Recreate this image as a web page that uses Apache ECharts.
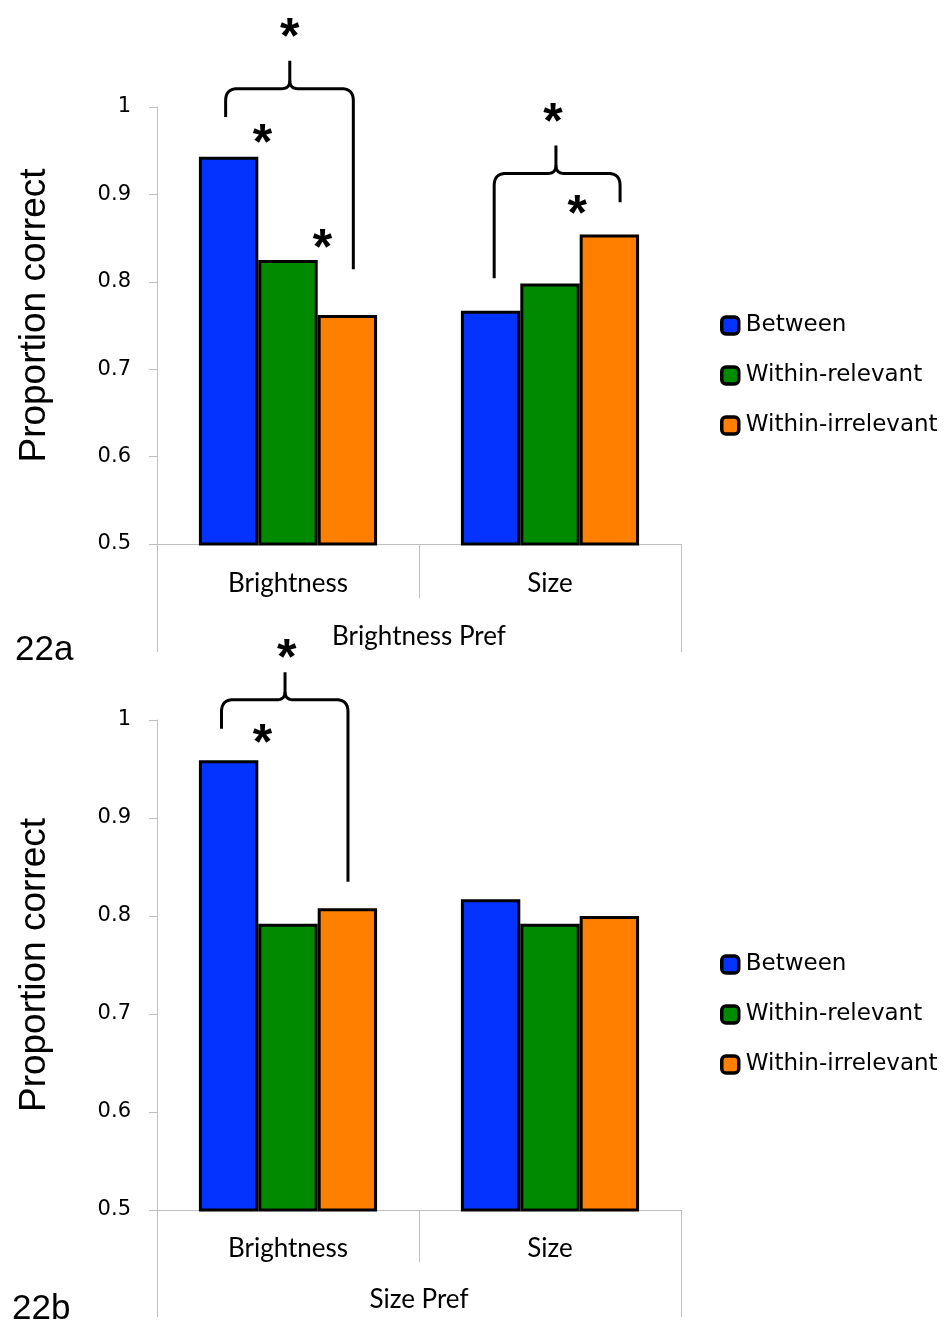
<!DOCTYPE html>
<html><head><meta charset="utf-8">
<script src="https://cdn.jsdelivr.net/npm/echarts@6/dist/echarts.min.js"></script>
<style>html,body{margin:0;padding:0;background:#fff}#c{width:946px;height:1325px}</style>
</head><body><div id="c"></div>
<script>
const categories = ['Brightness', 'Size'];
const seriesNames = ['Between', 'Within-relevant', 'Within-irrelevant'];
const groupA = 'Brightness Pref';
const groupB = 'Size Pref';
const panelA = '22a';
const panelB = '22b';
const yTitle = 'Proportion correct';
// Panel 22a values
const betweenA = [0.943, 0.767];
const withinRelevantA = [0.825, 0.798];
const withinIrrelevantA = [0.762, 0.854];
// Panel 22b values
const betweenB = [0.959, 0.817];
const withinRelevantB = [0.792, 0.792];
const withinIrrelevantB = [0.808, 0.800];
const yMin = 0.5, yMax = 1, yStep = 0.1;

// significance annotations (x in bar-slot units from category centre, y in data units)
const bracesA = [
  {cat: 0, left: -1.05, right: 1.10, cusp: 0.03, leftBottom: 0.9886, rightBottom: 0.8143, level: 1.021, top: 1.053},
  {cat: 1, left: -0.94, right: 1.18, cusp: 0.10, leftBottom: 0.804, rightBottom: 0.891, level: 0.924, top: 0.956}
];
const starsA = [
  {cat: 0, slot: 0.03, value: 1.091}, {cat: 0, slot: -0.43, value: 0.970}, {cat: 0, slot: 0.58, value: 0.849},
  {cat: 1, slot: 0.05, value: 0.994}, {cat: 1, slot: 0.46, value: 0.888}
];
const bracesB = [
  {cat: 0, left: -1.12, right: 1.01, cusp: -0.05, leftBottom: 0.991, rightBottom: 0.835, level: 1.0207, top: 1.0486}
];
const starsB = [
  {cat: 0, slot: -0.02, value: 1.073}, {cat: 0, slot: -0.43, value: 0.986}
];

const colors = ['#0433FF', '#008A00', '#FF7F00'];
const gray = '#BFBFBF';
const labelFont = 'Lato';
const barGapCat = 0.32;

const chart = echarts.init(document.getElementById('c'), null, {renderer: 'canvas'});

function yAxisCfg(gi, namePad) {
  return {
    type: 'value', gridIndex: gi, min: yMin, max: yMax, interval: yStep,
    name: yTitle, nameLocation: 'middle', nameGap: 104, nameRotate: 90,
    nameTextStyle: {fontFamily: 'Liberation Sans', fontSize: 37, color: '#000', padding: namePad},
    axisLine: {show: true, lineStyle: {color: gray, width: 1}},
    axisTick: {show: true, length: 8, lineStyle: {color: gray}},
    axisLabel: {margin: 26, fontFamily: 'DejaVu Sans', fontSize: 21, color: '#000', padding: [6, 0, 0, 0]},
    splitLine: {show: false}
  };
}
function xAxesCfg(gi, group, tickLen1, tickLen2, m1, m2) {
  return [{
    type: 'category', gridIndex: gi, data: categories, position: 'bottom',
    axisLine: {show: true, lineStyle: {color: gray, width: 1}},
    axisTick: {show: true, interval: 0, length: tickLen1, alignWithLabel: false, lineStyle: {color: gray}},
    axisLabel: {margin: m1, fontFamily: labelFont, fontSize: 26, color: '#000', interval: 0},
    splitLine: {show: false}
  }, {
    type: 'category', gridIndex: gi, data: [group], position: 'bottom', offset: tickLen1,
    axisLine: {show: false},
    axisTick: {show: true, interval: 0, length: tickLen2, alignWithLabel: false, lineStyle: {color: gray}},
    axisLabel: {margin: m2, fontFamily: labelFont, fontSize: 26, color: '#000'},
    splitLine: {show: false}
  }];
}
function barSeries(xi, yi, arrs) {
  return seriesNames.map((n, i) => ({
    name: n, type: 'bar', xAxisIndex: xi, yAxisIndex: yi, data: arrs[i],
    barGap: '0%', barCategoryGap: (barGapCat * 100) + '%',
    itemStyle: {color: colors[i], borderColor: '#000', borderWidth: 3},
    emphasis: {disabled: true}
  }));
}
function legendCfg(top) {
  return {
    orient: 'vertical', left: 720, top: top, padding: 0, itemWidth: 17, itemHeight: 17, itemGap: 27,
    icon: 'roundRect', data: seriesNames, selectedMode: false,
    itemStyle: {borderColor: '#000', borderWidth: 3.5},
    textStyle: {fontFamily: 'DejaVu Sans', fontSize: 23, color: '#000', padding: [0, 0, 0, 2]}
  };
}

chart.setOption({
  animation: false,
  backgroundColor: '#fff',
  title: [
    {text: panelA, left: 15, top: 633, padding: 0, textStyle: {fontFamily: 'Liberation Sans', fontSize: 35, fontWeight: 'normal', color: '#000'}},
    {text: panelB, left: 12, top: 1292, padding: 0, textStyle: {fontFamily: 'Liberation Sans', fontSize: 35, fontWeight: 'normal', color: '#000'}}
  ],
  legend: [legendCfg(314), legendCfg(953)],
  grid: [
    {left: 157, top: 107, width: 524, height: 437},
    {left: 157, top: 720, width: 524, height: 490}
  ],
  xAxis: [...xAxesCfg(0, groupA, 54, 54, 27, 26), ...xAxesCfg(1, groupB, 52, 55, 26, 25)],
  yAxis: [yAxisCfg(0, [0, 0, 0, 20]), yAxisCfg(1, 0)],
  series: [
    ...barSeries(0, 0, [betweenA, withinRelevantA, withinIrrelevantA]),
    ...barSeries(2, 1, [betweenB, withinRelevantB, withinIrrelevantB])
  ]
});

function quad(p0, c, p1, n) {
  const pts = [];
  for (let k = 1; k <= n; k++) {
    const t = k / n, u = 1 - t;
    pts.push([u * u * p0[0] + 2 * u * t * c[0] + t * t * p1[0], u * u * p0[1] + 2 * u * t * c[1] + t * t * p1[1]]);
  }
  return pts;
}
function buildAnnotations(xi, yi, braces, stars) {
  const els = [];
  const px = (cat, v) => chart.convertToPixel({xAxisIndex: xi, yAxisIndex: yi}, [cat, v]);
  const c0 = px(0, yMin)[0], c1 = px(1, yMin)[0];
  const slotW = (c1 - c0) * (1 - barGapCat) / 3;
  const X = (cat, s) => px(cat, yMin)[0] + s * slotW;
  const Y = v => px(0, v)[1];
  braces.forEach(b => {
    const xl = X(b.cat, b.left), xr = X(b.cat, b.right), xc = X(b.cat, b.cusp);
    const yl = Y(b.leftBottom), yr = Y(b.rightBottom), yh = Y(b.level), yt = Y(b.top);
    const r = 12, rc = 8, n = 10;
    const leftHalf = [[xl, yl], [xl, yh + r], ...quad([xl, yh + r], [xl, yh], [xl + r, yh], n),
      [xc - rc, yh], ...quad([xc - rc, yh], [xc, yh], [xc, yh - rc], n), [xc, yt]];
    const rightHalf = [[xc, yh - rc], ...quad([xc, yh - rc], [xc, yh], [xc + rc, yh], n),
      [xr - r, yh], ...quad([xr - r, yh], [xr, yh], [xr, yh + r], n), [xr, yr]];
    [leftHalf, rightHalf].forEach(pts => els.push({
      type: 'polyline', shape: {points: pts}, silent: true,
      style: {fill: null, stroke: '#000', lineWidth: 3, lineJoin: 'round'}
    }));
  });
  stars.forEach(s => {
    const fs = 50;
    els.push({type: 'text', x: X(s.cat, s.slot), y: Y(s.value) + 0.23 * fs, silent: true,
      style: {text: '*', fontFamily: 'Liberation Sans', fontWeight: 'bold', fontSize: fs, fill: '#000', align: 'center', verticalAlign: 'middle'}});
  });
  return els;
}
chart.setOption({graphic: [...buildAnnotations(0, 0, bracesA, starsA), ...buildAnnotations(2, 1, bracesB, starsB)]});
</script>
</body></html>
